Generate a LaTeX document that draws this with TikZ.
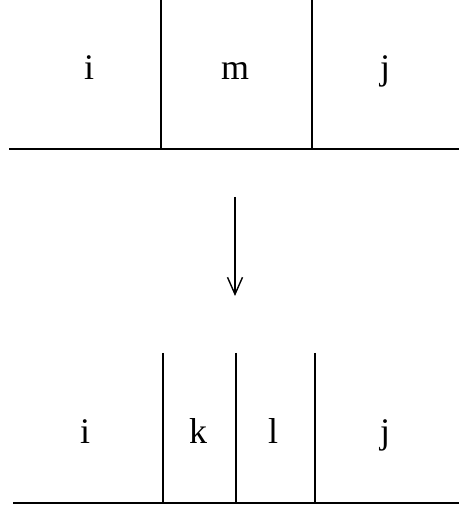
\documentclass[tikz,border=0pt]{standalone}
\usepackage{fontspec}
\setmainfont{Liberation Serif}
\usetikzlibrary{arrows.meta}
\tikzset{
  seg/.style={line width=2pt},
  lbl/.style={anchor=base,inner sep=0pt,font=\fontsize{36}{42}\selectfont},
  arr/.style={line width=1.4pt,-{Straight Barb[length=17pt,width=15pt,line width=1.4pt]}}
}
\begin{document}
\begin{tikzpicture}[x=1pt,y=1pt]
\useasboundingbox (0,0) rectangle (459,510);
% top
\coordinate (tl) at (9,361);
\coordinate (tr) at (459,361);
\coordinate (ta1) at (161,510);
\coordinate (tb1) at (161,361);
\coordinate (ta2) at (312,510);
\coordinate (tb2) at (312,361);
\draw[seg] (tl) -- (tr);
\draw[seg] (ta1) -- (tb1);
\draw[seg] (ta2) -- (tb2);
\node[lbl] (ti) at (89,430) {i};
\node[lbl] (tm) at (235,430) {m};
\node[lbl] (tj) at (385,430) {j};
% arrow
\coordinate (as) at (235,313);
\coordinate (ae) at (235,214);
\draw[arr] (as) -- (ae);
% bottom
\coordinate (bl) at (13,7);
\coordinate (br) at (459,7);
\coordinate (ba1) at (163,157);
\coordinate (bb1) at (163,7);
\coordinate (ba2) at (236,157);
\coordinate (bb2) at (236,7);
\coordinate (ba3) at (315,157);
\coordinate (bb3) at (315,7);
\draw[seg] (bl) -- (br);
\draw[seg] (ba1) -- (bb1);
\draw[seg] (ba2) -- (bb2);
\draw[seg] (ba3) -- (bb3);
\node[lbl] (bi) at (85,66) {i};
\node[lbl] (bk) at (198,66) {k};
\node[lbl] (bl2) at (273,66) {l};
\node[lbl] (bj) at (385,66) {j};
\end{tikzpicture}
\end{document}
